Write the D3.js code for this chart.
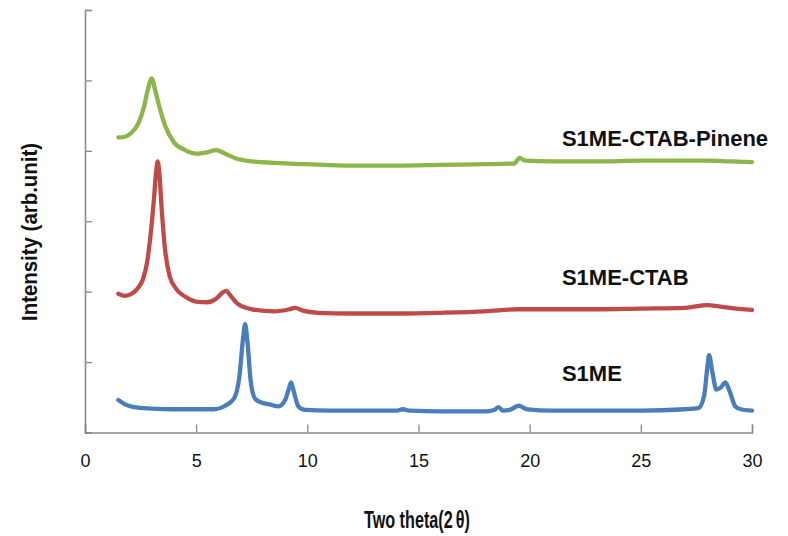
<!DOCTYPE html>
<html>
<head>
<meta charset="utf-8">
<script src="https://cdn.jsdelivr.net/npm/d3@7"></script>
<style>
  html, body { margin: 0; padding: 0; background: #fff; }
  svg { display: block; }
</style>
</head>
<body>
<svg id="chart" width="788" height="536"></svg>
<script>
// ---- data (x = two theta, y = intensity in arbitrary offset units) ----
const xTicks = [0, 5, 10, 15, 20, 25, 30];
const yTicks = [0, 1, 2, 3, 4, 5, 6];

const s1meX = [1.5, 1.8, 2.2, 3, 4, 5, 5.8, 6.3, 6.7, 6.95, 7.1, 7.2, 7.3, 7.45, 7.65, 7.9, 8.3, 8.7, 9.0, 9.15, 9.27, 9.4, 9.6, 9.9, 11, 12.5, 14, 14.3, 14.6, 16, 18, 18.4, 18.6, 18.8, 19.1, 19.5, 19.9, 21, 23, 25, 27, 27.6, 27.85, 28.0, 28.07, 28.2, 28.4, 28.6, 28.8, 29.0, 29.25, 29.5, 30];
const s1meY = [0.46, 0.40, 0.36, 0.34, 0.33, 0.33, 0.33, 0.38, 0.48, 0.81, 1.31, 1.54, 1.31, 0.74, 0.48, 0.43, 0.40, 0.37, 0.46, 0.60, 0.71, 0.57, 0.37, 0.32, 0.31, 0.31, 0.31, 0.33, 0.31, 0.30, 0.30, 0.32, 0.36, 0.31, 0.32, 0.38, 0.33, 0.31, 0.31, 0.31, 0.33, 0.35, 0.53, 0.95, 1.10, 0.89, 0.61, 0.64, 0.71, 0.58, 0.37, 0.33, 0.31];

const ctabX = [1.5, 1.8, 2.1, 2.4, 2.6, 2.8, 2.95, 3.1, 3.2, 3.27, 3.35, 3.45, 3.6, 3.8, 4.1, 4.5, 5.0, 5.5, 5.9, 6.2, 6.35, 6.55, 6.9, 7.5, 8.5, 9.2, 9.45, 9.8, 10.5, 12, 14, 16, 18, 19.5, 21, 23, 25, 27, 28, 28.5, 29, 30];
const ctabY = [1.97, 1.94, 1.97, 2.06, 2.17, 2.43, 2.81, 3.31, 3.71, 3.85, 3.66, 3.17, 2.60, 2.23, 2.04, 1.93, 1.86, 1.85, 1.90, 1.99, 2.01, 1.94, 1.82, 1.75, 1.72, 1.75, 1.77, 1.73, 1.70, 1.69, 1.69, 1.70, 1.72, 1.75, 1.75, 1.75, 1.76, 1.77, 1.81, 1.79, 1.77, 1.74];

const pineneX = [1.5, 1.8, 2.1, 2.4, 2.65, 2.85, 3.0, 3.15, 3.35, 3.6, 4.0, 4.5, 5.0, 5.5, 5.9, 6.3, 6.8, 7.5, 8.5, 10, 12, 14, 16, 18, 19.3, 19.55, 19.8, 21, 23, 25, 27, 28, 29, 30];
const pineneY = [4.19, 4.20, 4.26, 4.39, 4.62, 4.90, 5.03, 4.87, 4.62, 4.36, 4.12, 4.01, 3.96, 3.98, 4.01, 3.96, 3.89, 3.85, 3.83, 3.81, 3.79, 3.79, 3.80, 3.81, 3.82, 3.90, 3.86, 3.85, 3.85, 3.86, 3.86, 3.86, 3.85, 3.84];

const seriesNames = ["S1ME", "S1ME-CTAB", "S1ME-CTAB-Pinene"];
const seriesColors = ["#4a7ebb", "#be4b48", "#8cb54a"];
const labelX = [21.45, 21.45, 21.45];
const labelY = [0.73, 2.10, 4.07];

const xTitle = "Two theta(2\u2009\u03B8)";
const yTitle = "Intensity (arb.unit)";

// ---- layout ----
const svg = d3.select("#chart");
const x = d3.scaleLinear().domain([0, 30]).range([85, 752]);
const y = d3.scaleLinear().domain([0, 6]).range([432.5, 10]);
const axisColor = "#8a8a8a";

// x axis
const gx = svg.append("g").attr("transform", `translate(0,${y(0)})`)
  .call(d3.axisBottom(x).tickValues(xTicks).tickSize(-8).tickPadding(22).tickFormat(d3.format("d")));
gx.select(".domain").attr("stroke", axisColor).attr("stroke-width", 1.6);
gx.selectAll(".tick line").attr("stroke", axisColor).attr("stroke-width", 1.3);
gx.selectAll(".tick text").attr("fill", "#111").attr("font-family", "Liberation Sans, Arial, sans-serif")
  .attr("font-size", 18).attr("dy", "0.71em");

// y axis
const gy = svg.append("g").attr("transform", `translate(${x(0)},0)`)
  .call(d3.axisLeft(y).tickValues(yTicks).tickSize(-7).tickFormat(""));
gy.select(".domain").attr("stroke", axisColor).attr("stroke-width", 1.6);
gy.selectAll(".tick line").attr("stroke", axisColor).attr("stroke-width", 1.3);

// lines
const seriesData = [
  d3.zip(s1meX, s1meY),
  d3.zip(ctabX, ctabY),
  d3.zip(pineneX, pineneY)
];
const line = d3.line().x(d => x(d[0])).y(d => y(d[1])).curve(d3.curveMonotoneX);
svg.append("g").selectAll("path").data(seriesData).join("path")
  .attr("d", line)
  .attr("fill", "none")
  .attr("stroke", (d, i) => seriesColors[i])
  .attr("stroke-width", 4.3)
  .attr("stroke-linejoin", "round")
  .attr("stroke-linecap", "round");

// series labels
svg.append("g").selectAll("text").data(seriesNames).join("text")
  .attr("x", (d, i) => x(labelX[i]))
  .attr("y", (d, i) => y(labelY[i]))
  .attr("font-family", "Liberation Sans, Arial, sans-serif")
  .attr("font-weight", "bold")
  .attr("font-size", 22)
  .attr("fill", "#111")
  .text(d => d);

// axis titles
svg.append("text")
  .attr("x", 364).attr("y", 528)
  .attr("font-family", "Liberation Sans, Arial, sans-serif")
  .attr("font-weight", "bold").attr("font-size", 24)
  .attr("textLength", 106).attr("lengthAdjust", "spacingAndGlyphs")
  .attr("fill", "#111")
  .text(xTitle);

svg.append("text")
  .attr("transform", "translate(37,321) rotate(-90)")
  .attr("font-family", "Liberation Sans, Arial, sans-serif")
  .attr("font-weight", "bold").attr("font-size", 22)
  .attr("textLength", 178).attr("lengthAdjust", "spacingAndGlyphs")
  .attr("fill", "#111")
  .text(yTitle);
</script>
</body>
</html>
